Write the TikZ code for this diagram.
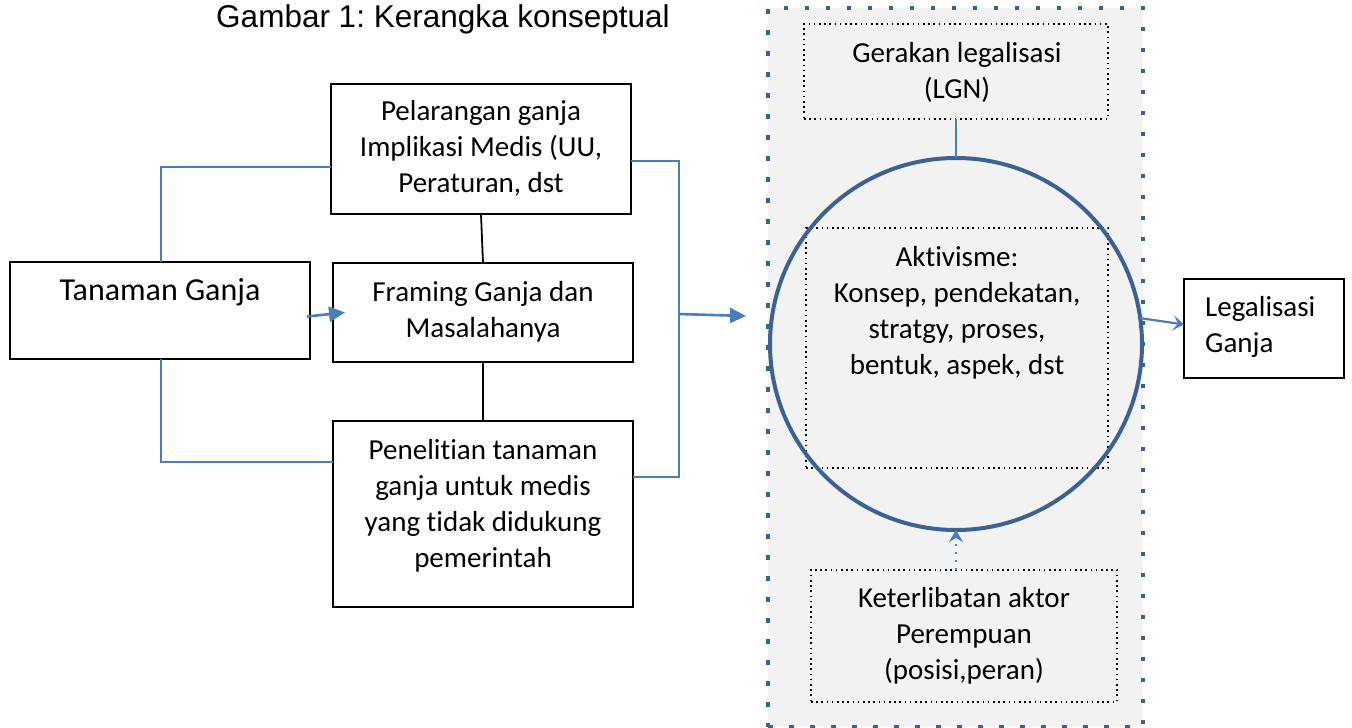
\documentclass[tikz,border=0pt]{standalone}
\usepackage{fontspec}
\setmainfont{Carlito}[Ligatures=NoCommon]
\newfontfamily\titlefont{Liberation Sans}
\usetikzlibrary{arrows.meta}
\frenchspacing
\definecolor{lnblue}{HTML}{4A7EBB}
\definecolor{dkblue}{HTML}{3C6194}
\definecolor{panelgray}{HTML}{F2F2F2}
\tikzset{
  box/.style={draw=black, line width=1.8pt, rectangle, inner sep=0pt, outer sep=0pt},
  dotbox/.style={draw=black, line width=1.6pt, dash pattern=on 1.6pt off 3.6pt, rectangle, inner sep=0pt, outer sep=0pt},
  txt/.style={align=center, font=\fontsize{29}{36}\selectfont, inner sep=0pt},
  blueline/.style={draw=lnblue, line width=1.6pt},
  bigarrow/.style={draw=lnblue, line width=2.6pt, -{Triangle[length=16pt,width=15pt]}},
  smallarrow/.style={draw=lnblue, line width=2.2pt, -{Stealth[length=11pt,width=15pt,inset=5pt]}},
}
\begin{document}
\begin{tikzpicture}[x=1pt,y=-1pt]
\useasboundingbox (0,0) rectangle (1352,728);

% title
\node[font=\titlefont\fontsize{31.5}{36}\selectfont, inner sep=0pt] (title) at (443,19) {Gambar 1: Kerangka konseptual};

% right panel
\node[fill=panelgray, draw=dkblue, line width=4.5pt, dash pattern=on 4.5pt off 16.5pt, rectangle, inner sep=0pt, outer sep=0pt, minimum width=375pt, minimum height=719pt] (panel) at (955.5,367.5) {};

% left boxes
\node[box, minimum width=300pt, minimum height=97pt] (tan) at (160,310.5) {};
\node[box, minimum width=300pt, minimum height=130pt] (box1) at (481,149) {};
\node[box, minimum width=300pt, minimum height=99pt] (box2) at (483,312.5) {};
\node[box, minimum width=300pt, minimum height=186pt] (box3) at (483,514) {};
\node[box, minimum width=160pt, minimum height=99pt] (legal) at (1264,328.5) {};

\node[txt, font=\fontsize{32}{36}\selectfont] (tantxt) at (160,292) {Tanaman Ganja};
\node[txt] (b1txt) at (481,148) {Pelarangan ganja\\Implikasi Medis (UU,\\Peraturan, dst};
\node[txt] (b2txt) at (483,312) {Framing Ganja dan\\Masalahanya};
\node[txt] (b3txt) at (483,506) {Penelitian tanaman\\ganja untuk medis\\yang tidak didukung\\pemerintah};
\node[txt, align=left, anchor=west] (legtxt) at (1205,327) {Legalisasi\\Ganja};

% panel inner boxes
\node[dotbox, minimum width=304pt, minimum height=95pt] (gerak) at (956,71.5) {};
\node[dotbox, minimum width=302pt, minimum height=240pt] (aktiv) at (957,348) {};
\node[dotbox, minimum width=306pt, minimum height=132pt] (keter) at (964,636) {};
\node[circle, draw=dkblue, line width=4pt, minimum size=372pt, inner sep=0pt, outer sep=0pt] (circ) at (956,344) {};

\node[txt] (gertxt) at (957,72) {Gerakan legalisasi\\(LGN)};
\node[txt] (akttxt) at (957,313) {Aktivisme:\\Konsep, pendekatan,\\stratgy, proses,\\bentuk, aspek, dst};
\node[txt] (kettxt) at (964,636) {Keterlibatan aktor\\Perempuan\\(posisi,peran)};

% black connectors
\draw[line width=1.8pt] (box1.south) -- (box2.north);
\draw[line width=1.8pt] (box2.south) -- (box3.north);

% left brackets
\coordinate (lt) at (161,167);
\coordinate (lb) at (161,462);
\draw[blueline] (tan.north -| lt) -- (lt) -- (lt -| box1.west);
\draw[blueline] (tan.south -| lb) -- (lb) -- (lb -| box3.west);

% right bracket
\coordinate (rt) at (679,161);
\coordinate (rb) at (679,477);
\coordinate (rm) at (679,314);
\coordinate (ae) at (746,316);
\draw[blueline] (box1.east |- rt) -- (rt) -- (rb) -- (box3.east |- rb);
\draw[bigarrow] (rm) -- (ae);

% tanaman -> framing
\draw[bigarrow] ([xshift=-3pt,yshift=-6pt]tan.east) -- ([xshift=12pt]box2.west);

% panel connectors
\draw[blueline] (gerak.south) -- (circ.north);
\draw[draw=lnblue, line width=2.2pt, dash pattern=on 2pt off 6pt, -{Stealth[length=12pt,width=14pt,inset=4pt]}] (keter.north -| circ.south) -- (circ.south);
\draw[smallarrow] (circ.8) -- ([yshift=4pt]legal.west);
\end{tikzpicture}
\end{document}
